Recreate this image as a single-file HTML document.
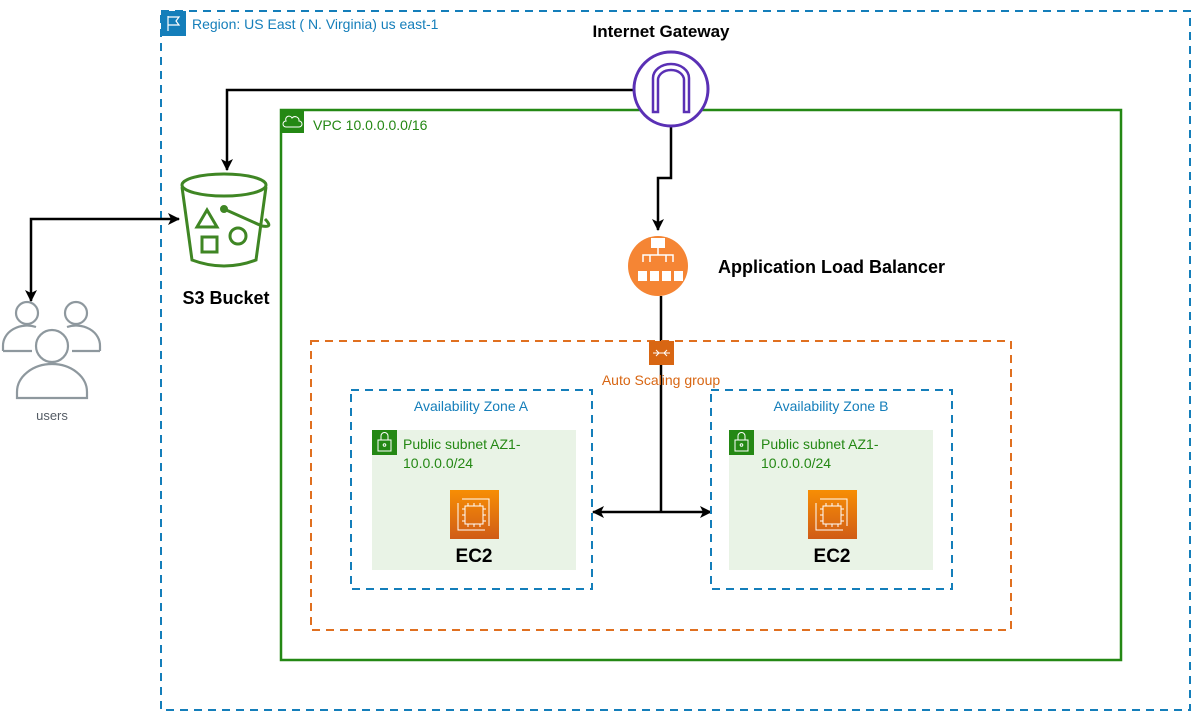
<!DOCTYPE html>
<html><head><meta charset="utf-8"><style>
html,body{margin:0;padding:0;background:#fff;}
svg{display:block;font-family:"Liberation Sans",Arial,sans-serif;}
</style></head><body>
<svg width="1193" height="712" viewBox="0 0 1193 712" xmlns="http://www.w3.org/2000/svg">
<defs>
<marker id="ah" viewBox="0 0 12 12" refX="11" refY="6" markerWidth="12" markerHeight="12" orient="auto-start-reverse" markerUnits="userSpaceOnUse">
<path d="M0,0 L12,6 L0,12 L3,6 Z" fill="#000"/>
</marker>
<linearGradient id="eg" x1="0" y1="1" x2="0" y2="0"><stop offset="0" stop-color="#D05C17"/><stop offset="1" stop-color="#F78E04"/></linearGradient>
</defs>
<!-- Region -->
<rect x="161" y="11" width="1029" height="699" fill="none" stroke="#147EBA" stroke-width="2" stroke-dasharray="8,6"/>
<rect x="161" y="11" width="25" height="25" fill="#147EBA"/>
<path d="M168,16 V31 M168,17 H179 L176,21 L179,25 H168" stroke="#fff" stroke-width="1.2" fill="none"/>
<text x="192" y="29" font-size="14" fill="#147EBA">Region: US East ( N. Virginia) us east-1</text>
<!-- VPC -->
<rect x="281" y="110" width="840" height="550" fill="none" stroke="#248814" stroke-width="2.5"/>
<rect x="281" y="110" width="23" height="23" fill="#248814"/>
<path d="M286,127 h13 a3,3 0 0 0 0,-6 a4,4 0 0 0 -7,-3 a3,3 0 0 0 -6,3 a3,3 0 0 0 0,6z" stroke="#fff" fill="none" stroke-width="1"/>
<text x="313" y="130" font-size="14" fill="#248814">VPC 10.0.0.0.0/16</text>
<!-- connectors -->
<path d="M634,90 H227 V170" fill="none" stroke="#000" stroke-width="2.5" marker-end="url(#ah)"/>
<path d="M671,127 V178 H658 V230" fill="none" stroke="#000" stroke-width="2.5" marker-end="url(#ah)"/>
<path d="M179,219 H31 V301" fill="none" stroke="#000" stroke-width="2.5" marker-start="url(#ah)" marker-end="url(#ah)"/>
<path d="M661,296 V512" fill="none" stroke="#000" stroke-width="2.5"/>
<path d="M593,512 H711" fill="none" stroke="#000" stroke-width="2.5" marker-start="url(#ah)" marker-end="url(#ah)"/>
<!-- IGW -->
<text x="661" y="37" font-size="17" font-weight="bold" text-anchor="middle" fill="#000">Internet Gateway</text>
<circle cx="671" cy="89" r="37" fill="#fff" stroke="#5A30B5" stroke-width="3"/>
<path d="M653,112 V78 a18,14 0 0 1 36,0 V112 h-5 V80 a13,10 0 0 0 -26,0 V112 z" fill="none" stroke="#5A30B5" stroke-width="2.5"/>
<!-- ALB -->
<circle cx="658" cy="266" r="30" fill="#F58534"/>
<rect x="651" y="238" width="14" height="10" fill="#fff"/>
<path d="M658,248 V255 M643,262 V255 H673 V262 M650,255 V262 M666,255 V262" stroke="#fff" stroke-width="1.5" fill="none"/>
<rect x="638" y="271" width="9" height="10" fill="#fff"/><rect x="650" y="271" width="9" height="10" fill="#fff"/>
<rect x="662" y="271" width="9" height="10" fill="#fff"/><rect x="674" y="271" width="9" height="10" fill="#fff"/>
<text x="718" y="273" font-size="18" font-weight="bold" fill="#000">Application Load Balancer</text>
<!-- S3 -->
<g stroke="#3F8624" stroke-width="3" fill="none">
<ellipse cx="224" cy="185" rx="42" ry="11"/>
<path d="M182,187 L192,260 Q224,272 256,260 L266,187"/>
<path d="M197,227 L207,210 L217,227 Z"/>
<rect x="202" y="237" width="15" height="15"/>
<circle cx="238" cy="236" r="8"/>
<circle cx="224" cy="209" r="2.5" fill="#3F8624"/>
<path d="M224,209 L262,226 Q274,228 265,219"/>
</g>
<text x="226" y="304" font-size="18" font-weight="bold" text-anchor="middle" fill="#000">S3 Bucket</text>
<!-- users -->
<g stroke="#8E989E" stroke-width="2.2" fill="#fff">
<circle cx="27" cy="313" r="11"/>
<path d="M3,351 V346 a24,20 0 0 1 33,-19"/>
<path d="M3,351 H32"/>
<circle cx="76" cy="313" r="11"/>
<path d="M100,351 V346 a24,20 0 0 0 -33,-19"/>
<path d="M100,351 H72"/>
<path d="M17,398 V392 a35,28 0 0 1 70,0 V398 Z"/>
<circle cx="52" cy="346" r="16"/>
</g>
<text x="52" y="420" font-size="13" text-anchor="middle" fill="#545B64">users</text>
<!-- ASG -->
<rect x="311" y="341" width="700" height="289" fill="none" stroke="#E07020" stroke-width="2" stroke-dasharray="8,6"/>
<rect x="649" y="341" width="25" height="24" fill="#D86613"/>
<path d="M653,353 H670 M656,350 L659,353 L656,356 M667,350 L664,353 L667,356" stroke="#fff" stroke-width="1" fill="none"/>
<text x="661" y="385" font-size="14" text-anchor="middle" fill="#D86613">Auto Scaling group</text>
<!-- AZ A -->
<rect x="351" y="390" width="241" height="199" fill="none" stroke="#147EBA" stroke-width="2" stroke-dasharray="8,6"/>
<text x="471" y="411" font-size="14" text-anchor="middle" fill="#147EBA">Availability Zone A</text>
<rect x="372" y="430" width="204" height="140" fill="#E9F3E6"/>
<rect x="372" y="430" width="25" height="25" fill="#248814"/>
<g stroke="#fff" stroke-width="1" fill="none"><rect x="378" y="440" width="13" height="11"/><path d="M381,440 V436 a3.5,3.5 0 0 1 7,0 V440"/><circle cx="384.5" cy="445" r="1.3"/></g>
<text x="403" y="449" font-size="14" fill="#248814">Public subnet AZ1-</text>
<text x="403" y="468" font-size="14" fill="#248814">10.0.0.0/24</text>
<g id="ec2">
<rect x="450" y="490" width="49" height="49" fill="url(#eg)"/>
<g stroke="#fff" stroke-width="1" fill="none"><path d="M458,503 V530 H485"/><path d="M462,499 h27 v27"/><rect x="465" y="506" width="18" height="18"/><path d="M468,503v3 M474,503v3 M480,503v3 M468,524v3 M474,524v3 M480,524v3 M462,509h3 M462,515h3 M462,521h3 M483,509h3 M483,515h3 M483,521h3"/></g>
</g>
<text x="474" y="562" font-size="19" font-weight="bold" text-anchor="middle" fill="#000">EC2</text>
<!-- AZ B -->
<rect x="711" y="390" width="241" height="199" fill="none" stroke="#147EBA" stroke-width="2" stroke-dasharray="8,6"/>
<text x="831" y="411" font-size="14" text-anchor="middle" fill="#147EBA">Availability Zone B</text>
<rect x="729" y="430" width="204" height="140" fill="#E9F3E6"/>
<rect x="729" y="430" width="25" height="25" fill="#248814"/>
<g stroke="#fff" stroke-width="1" fill="none"><rect x="735" y="440" width="13" height="11"/><path d="M738,440 V436 a3.5,3.5 0 0 1 7,0 V440"/><circle cx="741.5" cy="445" r="1.3"/></g>
<text x="761" y="449" font-size="14" fill="#248814">Public subnet AZ1-</text>
<text x="761" y="468" font-size="14" fill="#248814">10.0.0.0/24</text>
<use href="#ec2" transform="translate(358,0)"/>
<text x="832" y="562" font-size="19" font-weight="bold" text-anchor="middle" fill="#000">EC2</text>
</svg>
</body></html>
